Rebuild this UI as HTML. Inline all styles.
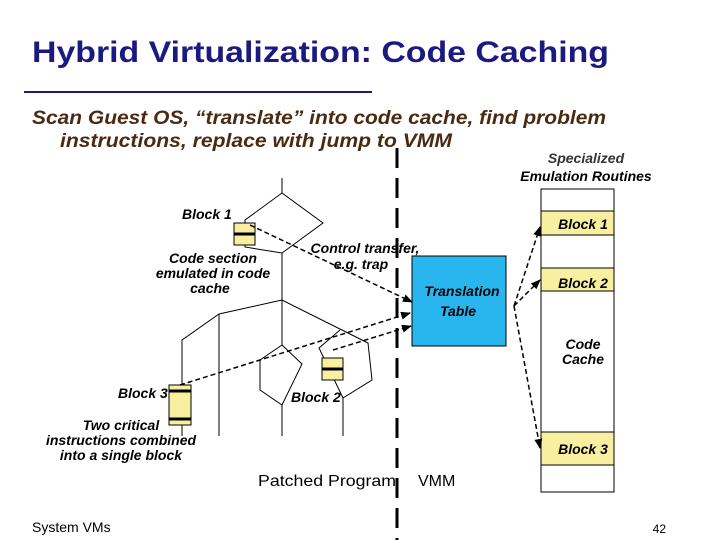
<!DOCTYPE html>
<html><head><meta charset="utf-8"><style>
body{margin:0;background:#fff;}
svg{display:block;font-family:"Liberation Sans",sans-serif;}
</style></head><body>
<svg width="720" height="540" viewBox="0 0 720 540">
<defs><marker id="a" markerWidth="10" markerHeight="8" refX="9" refY="4" orient="auto" markerUnits="userSpaceOnUse"><path d="M0,0 L10,4 L0,8 Z" fill="#000"/></marker></defs>
<text x="32" y="62" font-size="30" font-weight="bold" fill="#1a1a80" textLength="577" lengthAdjust="spacingAndGlyphs">Hybrid Virtualization: Code Caching</text>
<line x1="24" y1="92" x2="372" y2="92" stroke="#1a1a80" stroke-width="2"/>
<g font-size="19" font-weight="bold" font-style="italic" fill="#4a2a10">
<text x="32" y="124" textLength="574" lengthAdjust="spacingAndGlyphs">Scan Guest OS, “translate” into code cache, find problem</text>
<text x="60" y="147" textLength="392" lengthAdjust="spacingAndGlyphs">instructions, replace with jump to VMM</text></g>
<g font-style="italic" font-weight="bold" fill="#000" font-size="14">
<text x="586" y="163" text-anchor="middle" fill="#333">Specialized</text>
<text x="586" y="181" text-anchor="middle">Emulation Routines</text>
<text x="182" y="219">Block 1</text>
<text x="213" y="263" text-anchor="middle">Code section</text>
<text x="213" y="278" text-anchor="middle">emulated in code</text>
<text x="210" y="293" text-anchor="middle">cache</text>
<text x="365" y="253" text-anchor="middle">Control transfer,</text>
<text x="361" y="269" text-anchor="middle">e.g. trap</text>
<text x="118" y="398">Block 3</text>
<text x="291" y="402">Block 2</text>
<text x="121" y="430" text-anchor="middle">Two critical</text>
<text x="121" y="445" text-anchor="middle">instructions combined</text>
<text x="121" y="460" text-anchor="middle">into a single block</text>
</g>
<text x="258" y="486" font-size="16" fill="#000" textLength="138" lengthAdjust="spacingAndGlyphs">Patched Program</text>
<text x="418" y="486" font-size="16" fill="#000">VMM</text>
<text x="32" y="532" font-size="14">System VMs</text>
<text x="666" y="533" font-size="12" text-anchor="end">42</text>
<line x1="397" y1="148" x2="397" y2="540" stroke="#000" stroke-width="3" stroke-dasharray="20,10"/>
<g stroke="#000" stroke-width="1" fill="none">
<polyline points="282,178 282,193 323,223 282,253 245,247 245,220 282,193"/>
<line x1="282" y1="253" x2="282" y2="300"/>
<polyline points="182,436 182,340 219,314 282,300 368,343 372,380 343,398 343,436"/>
<line x1="219" y1="314" x2="219" y2="436"/>
<line x1="282" y1="300" x2="282" y2="345"/>
<polyline points="340,330 319,348 343,398"/>
<polyline points="282,345 302,364 282,405 260,390 260,360 282,345"/>
<line x1="282" y1="405" x2="282" y2="436"/>
</g>
<g stroke="#000" stroke-width="1" fill="#f8f0a0">
<rect x="234" y="223" width="21" height="22"/>
<rect x="322" y="358" width="21" height="22"/>
<rect x="169" y="385" width="22" height="40"/>
</g>
<g stroke="#000" stroke-width="3">
<line x1="234" y1="234" x2="255" y2="234"/>
<line x1="322" y1="369" x2="343" y2="369"/>
<line x1="169" y1="391" x2="191" y2="391"/>
<line x1="169" y1="419" x2="191" y2="419"/>
</g>
<rect x="412" y="256" width="94" height="90" fill="#29b6ee" stroke="#000"/>
<rect x="541" y="189" width="73" height="303" fill="#fff" stroke="#000"/>
<g fill="#f8f0a0" stroke="#000"><rect x="541" y="211" width="73" height="24"/><rect x="541" y="268" width="73" height="23"/><rect x="541" y="432" width="73" height="33"/></g>
<g font-style="italic" font-weight="bold" font-size="14" text-anchor="middle"><text x="583" y="229">Block 1</text><text x="583" y="288">Block 2</text><text x="583" y="454">Block 3</text><text x="462" y="296">Translation</text><text x="458" y="316">Table</text><text x="583" y="349">Code</text><text x="583" y="364">Cache</text></g>
<g stroke="#000" stroke-width="1.5" stroke-dasharray="5,3" fill="none" marker-end="url(#a)">
<line x1="250" y1="225" x2="412" y2="302"/>
<line x1="180" y1="385" x2="410" y2="313"/>
<line x1="333" y1="350" x2="411" y2="326"/>
<line x1="514" y1="306" x2="540" y2="227"/>
<line x1="514" y1="306" x2="540" y2="280"/>
<line x1="514" y1="306" x2="540" y2="448"/>
</g>
</svg>
</body></html>
